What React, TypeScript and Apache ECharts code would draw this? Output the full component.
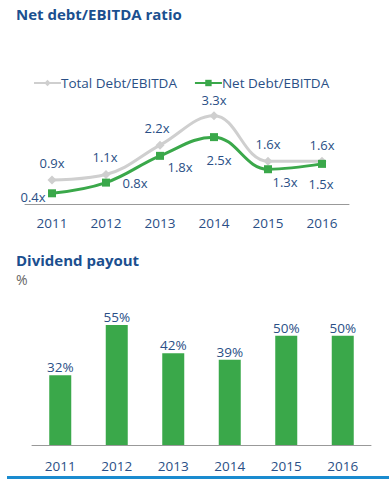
import React, { useEffect, useRef } from "react";
import * as echarts from "echarts";

const years = ["2011", "2012", "2013", "2014", "2015", "2016"];
const totalDebt = [0.9, 1.1, 2.2, 3.3, 1.6, 1.6];
const netDebt = [0.4, 0.8, 1.8, 2.5, 1.3, 1.5];
const payout = [32, 55, 42, 39, 50, 50];

const totalOffsets = [[0, -17], [-1, -18], [-3, -17], [0, -16], [0, -17], [0, -16]];
const netOffsets = [[-19, 4], [29, 0], [20, 11], [5, 23], [17, 13], [-1, 20]];

const FONT = "Open Sans";
const TXT = "#2a4f86";
const TITLE = "#1b4f8f";
const GREEN = "#3aa84a";
const GRAY = "#cfcfcf";

export default function App() {
  const ref = useRef<HTMLDivElement>(null);
  useEffect(() => {
    const chart = echarts.init(ref.current!, null, { renderer: "svg" });
    const lbl = { fontFamily: FONT, fontSize: 13, color: TXT };
    chart.setOption({
      animation: false,
      textStyle: { fontFamily: FONT },
      title: [
        { text: "Net debt/EBITDA ratio", left: 11, top: 1, textStyle: { fontFamily: FONT, fontSize: 15, fontWeight: "bold", color: TITLE } },
        { text: "Dividend payout", left: 11, top: 247, textStyle: { fontFamily: FONT, fontSize: 15, fontWeight: "bold", color: TITLE } },
        { text: "%", left: 11, top: 267, textStyle: { fontFamily: FONT, fontSize: 14, fontWeight: "normal", color: "#666" } },
      ],
      legend: {
        left: 31,
        top: 74,
        padding: 2,
        itemWidth: 27,
        itemHeight: 8,
        itemGap: 17,
        textStyle: { ...lbl, fontSize: 13.5, padding: [0, 0, 0, -5], lineHeight: 14 },
        data: ["Total Debt/EBITDA", "Net Debt/EBITDA"],
      },
      grid: [
        { left: 25, width: 324, top: 97, height: 107 },
        { left: 32, width: 339, top: 314, height: 131 },
      ],
      xAxis: [
        {
          gridIndex: 0, type: "category", data: years,
          axisLine: { lineStyle: { color: "#999", width: 1 } },
          axisTick: { show: false },
          axisLabel: { ...lbl, fontSize: 13.5, margin: 12 },
        },
        {
          gridIndex: 1, type: "category", data: years,
          axisLine: { lineStyle: { color: "#999", width: 1 } },
          axisTick: { show: false },
          axisLabel: { ...lbl, fontSize: 13.5, margin: 14 },
        },
      ],
      yAxis: [
        { gridIndex: 0, type: "value", min: 0, max: 4, show: false },
        { gridIndex: 1, type: "value", min: 0, max: 60, show: false },
      ],
      series: [
        {
          name: "Total Debt/EBITDA", type: "line", xAxisIndex: 0, yAxisIndex: 0,
          smooth: 0.4, symbol: "diamond", symbolSize: 9,
          lineStyle: { color: GRAY, width: 3 }, itemStyle: { color: GRAY },
          data: totalDebt.map((v, i) => ({
            value: v,
            label: { show: true, position: "inside", offset: totalOffsets[i], formatter: v.toFixed(1) + "x", ...lbl, lineHeight: 14 },
          })),
        },
        {
          name: "Net Debt/EBITDA", type: "line", xAxisIndex: 0, yAxisIndex: 0,
          smooth: 0.4, symbol: "rect", symbolSize: 8,
          lineStyle: { color: GREEN, width: 3 }, itemStyle: { color: GREEN },
          data: netDebt.map((v, i) => ({
            value: v,
            label: { show: true, position: "inside", offset: netOffsets[i], formatter: v.toFixed(1) + "x", ...lbl, lineHeight: 14 },
          })),
        },
        {
          name: "Dividend payout", type: "bar", xAxisIndex: 1, yAxisIndex: 1,
          barWidth: 22, itemStyle: { color: GREEN },
          label: { show: true, position: "top", distance: 1, formatter: "{c}%", ...lbl, fontSize: 13.5 },
          data: payout,
        },
      ],
      graphic: [
        { type: "rect", shape: { x: 7, y: 476, width: 382, height: 3 }, style: { fill: "#1a8bcf" } },
      ],
    });
    return () => chart.dispose();
  }, []);
  return <div ref={ref} style={{ position: "fixed", left: 0, top: 0, width: 389, height: 479, background: "#fff" }} />;
}
